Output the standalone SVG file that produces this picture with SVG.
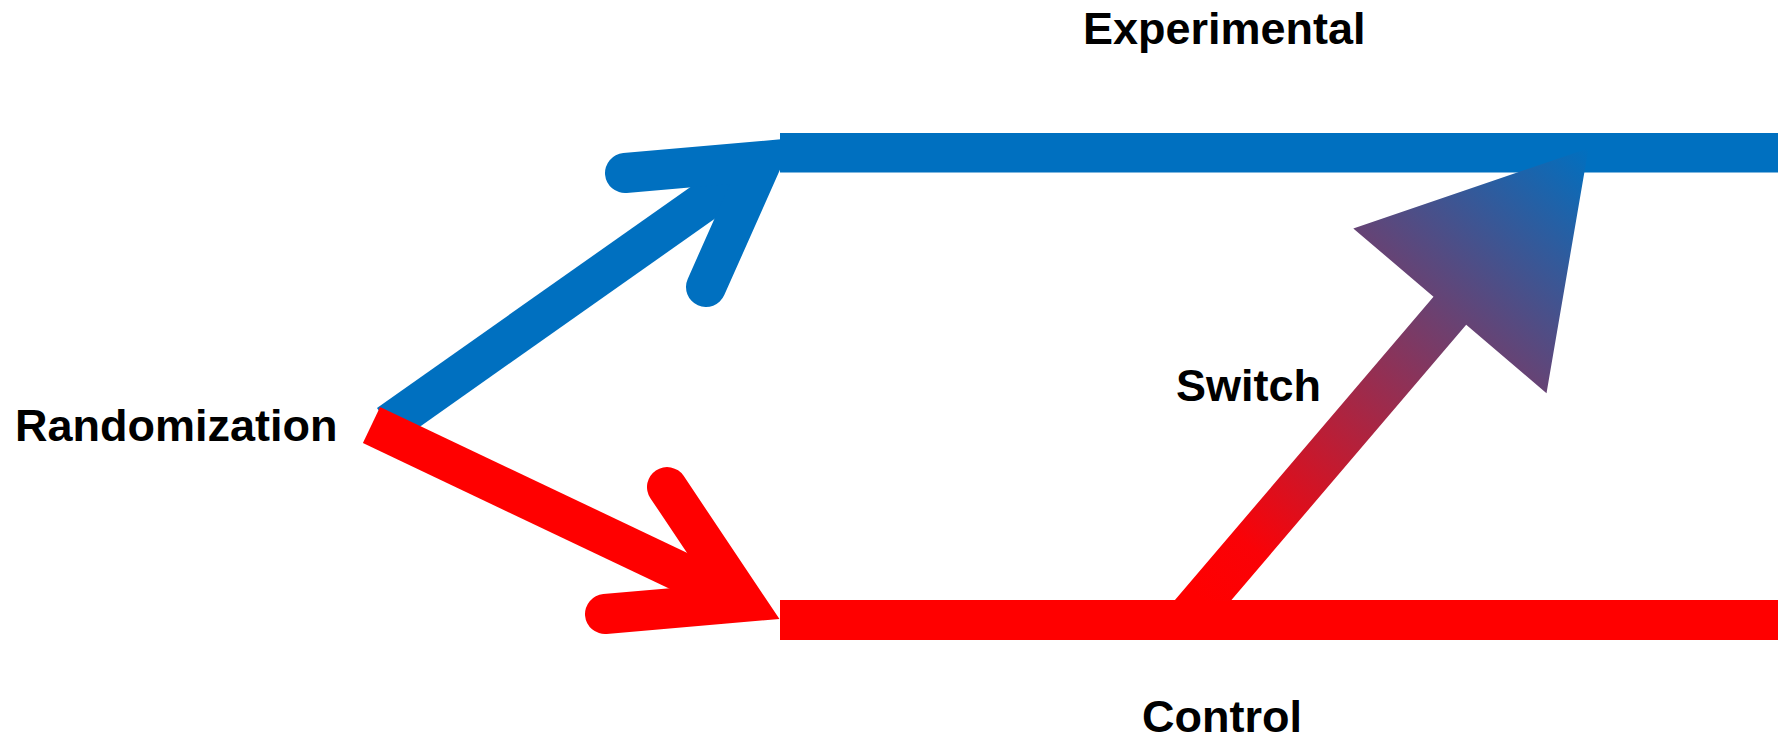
<svg xmlns="http://www.w3.org/2000/svg" width="1787" height="739" viewBox="0 0 1787 739">
  <style>
    .label { font-family: "Liberation Sans", Arial, sans-serif; font-weight: bold; font-size: 45px; fill: #000; }
    .shaft { fill: none; stroke-width: 40; stroke-linecap: butt; }
    .head { fill: none; stroke-width: 40; stroke-linecap: round; stroke-linejoin: miter; }
    .blue { stroke: #0070c0; }
    .red { stroke: #ff0000; }
  </style>
  <defs>
    <linearGradient id="switchGrad" gradientUnits="userSpaceOnUse" x1="1203" y1="600" x2="1588" y2="148">
      <stop offset="0" stop-color="#ff0000"/>
      <stop offset="0.12" stop-color="#fa0207"/>
      <stop offset="1" stop-color="#0070c0"/>
    </linearGradient>
  </defs>

  <rect width="1787" height="739" fill="#ffffff"/>

  <!-- Randomization node -->
  <g id="randomization">
    <text class="label" x="15" y="441">Randomization</text>
  </g>

  <!-- Allocation arrows -->
  <g id="connectors">
    <g id="to-experimental">
      <path class="shaft blue" d="M388.5,424.3 L762,161"/>
      <path class="head blue" d="M625,173 L762,161 L706,287"/>
    </g>
    <g id="to-control">
      <path class="shaft red" d="M371.5,425 L744,602"/>
      <path class="head red" d="M667,487 L744,602 L605,614"/>
    </g>
  </g>

  <!-- Experimental arm -->
  <g id="experimental">
    <rect x="780" y="133" width="998" height="39.5" fill="#0070c0"/>
    <text class="label" x="1083" y="44">Experimental</text>
  </g>

  <!-- Control arm -->
  <g id="control">
    <rect x="780" y="600" width="998" height="40" fill="#ff0000"/>
    <text class="label" x="1142" y="732">Control</text>
  </g>

  <!-- Crossover from control to experimental -->
  <g id="switch">
    <polygon fill="url(#switchGrad)" points="1174.1,601 1433.5,296.8 1353.3,228.4 1588.5,148.3 1546.5,393.2 1466.2,324.7 1230.6,601"/>
    <text class="label" x="1176" y="401">Switch</text>
  </g>
</svg>
